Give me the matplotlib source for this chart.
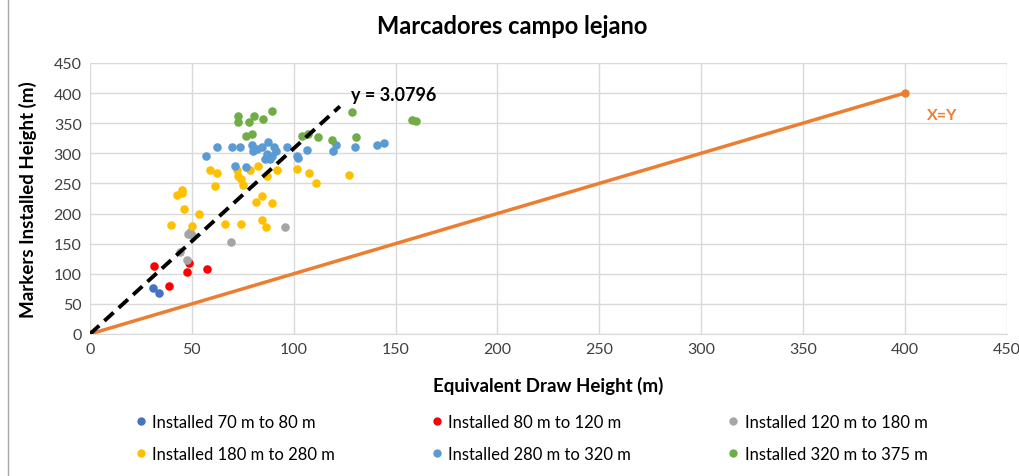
import matplotlib
matplotlib.use("Agg")
import matplotlib.pyplot as plt
from matplotlib.lines import Line2D

plt.rcParams['font.family'] = ['Lato', 'DejaVu Sans']

# ---- data ----
labels = ["Installed 70 m to 80 m", "Installed 80 m to 120 m", "Installed 120 m to 180 m",
          "Installed 180 m to 280 m", "Installed 280 m to 320 m", "Installed 320 m to 375 m"]
colors = ["#4472C4", "#FF0000", "#A5A5A5", "#FFC000", "#5B9BD5", "#70AD47"]

x_70_80 = [30.9, 33.9]
y_70_80 = [76, 68]

x_80_120 = [31.4, 38.8, 47.6, 48.6, 57.4]
y_80_120 = [113, 80, 103, 118, 108]

x_120_180 = [44.2, 47.6, 48.1, 50.0, 49.0, 69.2, 95.7]
y_120_180 = [136, 123, 166, 164, 170, 153, 177]

x_180_280 = [39.8, 46.1, 53.5, 50.0, 66.3, 74.1, 84.4, 86.4, 81.5, 89.3,
             58.9, 62.3, 61.3, 45.2, 42.7, 72.1, 72.6, 74.1, 75.1, 78.5,
             82.5, 86.9, 84.4, 91.8, 101.6, 107.5, 110.9, 127.1, 45.0]
y_180_280 = [181, 208, 199, 179, 183, 183, 189, 178, 219, 218,
             272, 267, 246, 239, 231, 272, 262, 257, 247, 272,
             279, 262, 229, 272, 274, 267, 251, 264, 234]

x_280_320 = [56.9, 62.3, 69.7, 73.6, 71.2, 76.6, 79.5, 80.0, 84.4, 87.4,
             86.9, 85.9, 89.3, 91.3, 88.3, 96.7, 101.6, 102.1, 106.5, 119.3,
             120.7, 130.1, 140.9, 144.3, 90.5, 82.0]
y_280_320 = [296, 310, 310, 310, 279, 277, 314, 304, 311, 319,
             299, 291, 296, 304, 291, 311, 296, 292, 306, 304,
             314, 311, 313, 317, 310, 307]

x_320_375 = [72.6, 72.6, 78.0, 80.5, 84.9, 89.3, 76.6, 79.5, 104.0, 107.0,
             111.9, 118.8, 128.6, 130.5, 158.0, 160.0]
y_320_375 = [362, 352, 352, 362, 357, 370, 329, 332, 329, 332,
             327, 322, 369, 327, 356, 354]

series_x = [x_70_80, x_80_120, x_120_180, x_180_280, x_280_320, x_320_375]
series_y = [y_70_80, y_80_120, y_120_180, y_180_280, y_280_320, y_320_375]

slope = 3.0796
trend_x = [0, 122.7]
xy_line = [0, 400]

x_ticks = list(range(0, 451, 50))
y_ticks = list(range(0, 451, 50))

# ---- figure ----
fig = plt.figure(figsize=(10.19, 4.77), dpi=100)
ax = fig.add_axes([0.0883, 0.2977, 0.8996, 0.5683])

ax.plot(xy_line, xy_line, color="#ED7D31", lw=2.5, marker="o", ms=5, zorder=2)

for xs, ys, c in zip(series_x, series_y, colors):
    ax.scatter(xs, ys, s=38, color=c, zorder=3, linewidths=0)

ax.plot(trend_x, [slope * v for v in trend_x], color="black", lw=2.8,
        ls=(0, (3.2, 1.8)), zorder=4)

ax.text(128, 397, "y = 3.0796", fontsize=13, fontweight="bold", color="black",
        ha="left", va="center")
ax.text(411, 363, "X=Y", fontsize=11.5, fontweight="bold", color="#ED7D31",
        ha="left", va="center")

ax.set_xlim(0, 450)
ax.set_ylim(0, 450)
ax.set_xticks(x_ticks)
ax.set_yticks(y_ticks)
ax.tick_params(length=0, labelsize=11.5, colors="#404040", pad=6)
ax.grid(True, color="#D9D9D9", lw=1)
ax.set_axisbelow(True)
for s in ["top", "right", "left"]:
    ax.spines[s].set_visible(False)
ax.spines["bottom"].set_color("#D9D9D9")

ax.set_xlabel("Equivalent Draw Height (m)", fontsize=13.5, fontweight="bold", labelpad=14)
ax.set_ylabel("Markers Installed Height (m)", fontsize=13.5, fontweight="bold", labelpad=12)

fig.text(0.503, 0.945, "Marcadores campo lejano", fontsize=17, fontweight="bold",
         ha="center", va="center")

# legend drawn row by row (matplotlib fills columns first, so reorder)
order = [0, 3, 1, 4, 2, 5]
handles = [Line2D([], [], marker="o", ls="none", color=colors[i], ms=5) for i in order]
fig.legend(handles, [labels[i] for i in order], loc="center", bbox_to_anchor=(0.520, 0.080),
           ncol=3, frameon=False, fontsize=12, handletextpad=0.2, columnspacing=5.6,
           labelspacing=0.95, handlelength=1.0)

fig.add_artist(Line2D([0.008, 0.008], [0, 1], transform=fig.transFigure,
                      color="#A6A6A6", lw=1))

fig.savefig("out.png", dpi=100)
